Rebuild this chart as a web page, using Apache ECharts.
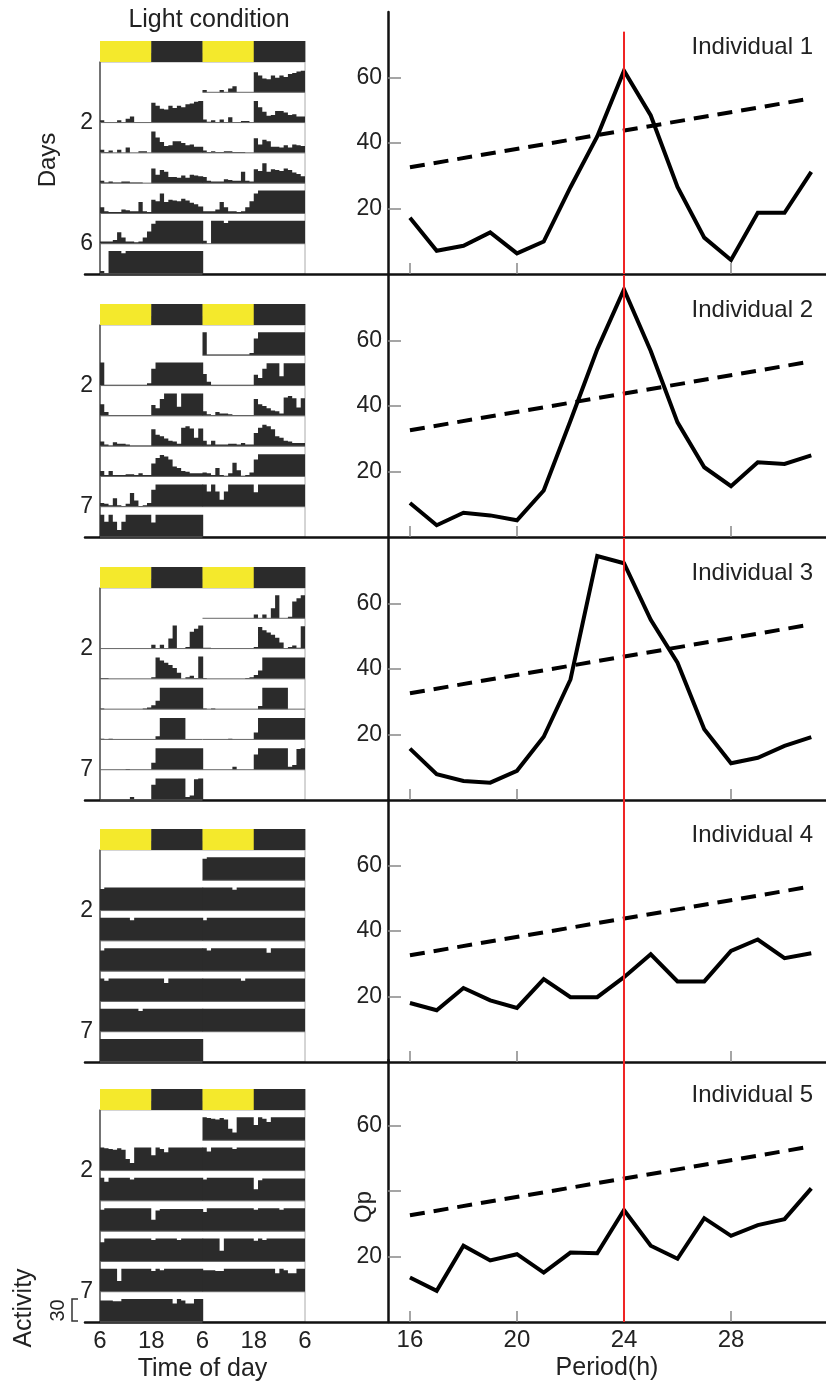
<!DOCTYPE html>
<html><head><meta charset="utf-8">
<script src="https://cdn.jsdelivr.net/npm/echarts@6/dist/echarts.min.js"></script>
<style>html,body{margin:0;padding:0;background:#fff}#c{width:826px;height:1385px}</style>
</head><body><div id="c"></div>
<script>
// ---------- periodogram data ----------
const periods = [16,17,18,19,20,21,22,23,24,25,26,27,28,29,30,31];
const qp1 = [17.2,7.1,8.6,12.7,6.3,9.9,26.5,42,62.1,48.4,26.6,11.1,4.3,18.7,18.7,31.2];
const qp2 = [10.4,3.6,7.4,6.6,5.1,14.2,35.5,57.3,75.6,56.8,35,21.3,15.5,22.8,22.3,24.9];
const qp3 = [15.7,7.9,5.8,5.3,8.9,19.3,36.8,74.5,72.3,55,41.9,21.6,11.2,12.9,16.5,19.2];
const qp4 = [18,15.8,22.6,18.8,16.5,25.3,19.8,19.8,25.9,32.9,24.6,24.6,33.9,37.4,31.7,33.2];
const qp5 = [13.6,9.5,23.3,18.8,20.7,15.1,21.2,21,34.2,23.3,19.3,31.7,26.3,29.6,31.4,40.8];
const sigPeriods = [16, 31];
const sigQp = [32.6, 53.6];
const refPeriod = 24;
const refTop = [74, 80, 80, 80, 80];
const periodTicks = [16, 20, 24, 28];
const qpTicks = [20, 40, 60];
const qpLabelValues = [[20,40,60],[20,40,60],[20,40,60],[20,40,60],[20,60]];
const individuals = ['Individual 1','Individual 2','Individual 3','Individual 4','Individual 5'];

// ---------- actogram data (hourly activity per day, from 6:00) ----------
const ind1Days = [
  [3,0,0,0,3,0,5,8,0,0,0,0,26,22,18,17,22,19,22,20,24,25,27,28],
  [4,1,3,0,4,0,7,0,0,2,2,0,28,20,14,9,10,15,15,13,10,11,8,8],
  [3,1,2,1,1,2,2,1,1,1,0,0,19,11,17,15,8,8,7,10,7,11,10,9],
  [8,3,2,2,2,5,4,3,3,15,3,2,18,16,26,15,18,17,16,19,17,14,12,9],
  [3,3,3,5,15,8,3,3,2,3,8,16,26,30,30,30,30,30,30,30,30,30,30,30],
  [4,0,30,30,30,27,30,30,30,30,30,30,30,30,30,30,30,30,30,30,30,30,30,30]
];
const ind2Days = [
  [30,1,1,1,1,1,1,1,1,1,1,3,22,30,30,30,30,30,30,30,30,30,30,30],
  [15,5,1,1,1,1,1,1,1,1,1,1,14,10,22,29,29,29,12,29,29,29,29,29],
  [6,2,1,5,3,3,2,1,1,1,1,1,22,15,13,10,7,6,3,24,26,23,11,23],
  [7,2,7,2,2,2,3,3,2,4,2,2,17,24,28,26,22,13,11,7,6,4,4,4],
  [5,4,2,11,2,1,4,18,8,1,2,5,22,29,29,29,29,29,29,29,29,29,29,29],
  [29,20,29,20,9,20,29,29,29,29,29,29,19,29,29,29,29,29,29,29,29,29,29,29]
];
const ind3Days = [
  [0,0,0,0,0,0,0,0,0,0,0,0,5,0,5,0,13,30,0,0,2,22,26,30],
  [1,1,0,0,0,0,0,0,0,0,0,0,2,28,24,21,18,14,8,0,2,4,1,29],
  [1,0,0,0,0,0,0,0,0,0,1,2,5,11,28,28,28,28,28,28,28,28,28,28],
  [1,0,1,0,0,0,0,0,0,0,0,0,0,4,28,28,28,28,28,28,0,0,0,0],
  [0,0,0,0,0,0,1,0,0,0,0,0,9,28,28,28,28,28,28,28,28,28,28,28],
  [0,0,0,0,0,0,0,4,0,0,0,0,20,28,28,28,28,28,28,28,4,6,27,28]
];
const ind4Days = [
  [28,30,30,30,30,30,30,30,30,30,30,30,30,30,30,30,30,30,30,30,30,30,30,30],
  [30,30,30,30,30,30,30,27,30,30,30,30,30,30,30,30,30,30,30,30,30,30,30,30],
  [27,30,30,30,30,30,30,30,30,30,30,30,30,30,30,30,30,30,30,30,30,30,30,30],
  [30,27,30,30,30,30,30,30,30,30,30,30,30,30,30,24,30,30,30,30,30,30,30,30],
  [30,30,30,30,30,30,30,30,30,27,30,30,30,30,30,30,30,30,30,30,30,30,30,30],
  [30,30,30,30,30,30,30,30,30,30,30,30,30,30,30,30,30,30,30,30,30,30,30,30]
];
const ind5Days = [
  [30,29,28,27,29,27,15,10,30,30,30,30,20,30,28,24,30,30,30,30,30,30,30,30],
  [30,25,30,30,30,30,30,28,30,30,30,30,30,30,30,30,30,30,30,30,30,30,30,30],
  [28,30,30,30,30,30,30,30,30,30,30,30,15,27,29,29,29,29,29,29,29,29,29,29],
  [25,30,30,30,30,30,30,30,30,30,30,30,28,30,30,30,30,30,28,30,30,30,30,30],
  [30,30,30,30,14,30,30,30,30,30,30,30,27,30,28,30,30,30,30,30,30,30,30,30],
  [28,28,28,27,27,30,30,30,30,30,30,30,30,30,30,30,30,24,30,28,24,24,30,30]
];
const dayLabelRows = [2, 6];
const dayLabels = [['2','6'],['2','7'],['2','7'],['2','7'],['2','7']];
const timeTickValues = [0, 12, 24, 36, 48];
const timeTickLabels = ['6','18','6','18','6'];
const lightStart = [0, 12, 24, 36];
const lightEnd = [12, 24, 36, 48];
const lightState = ['L','D','L','D'];
const activityScale = 30;

// ---------- layout / style ----------
const FONT = "'Liberation Sans', Arial, Helvetica, sans-serif";
const TXT = '#222';
const panelBottoms = [274, 537, 800, 1062, 1322];
const PANEL_H = 262;
const ROWS = 7;
const ROW_UNITS = 39.5;   // activity units per actogram row (pitch)
const BAR_COLOR = '#2b2b2b';
const SEAM = 0.7;         // px overlap to hide anti-aliasing seam between halves

const qpAll = [qp1, qp2, qp3, qp4, qp5];
const daysAll = [ind1Days, ind2Days, ind3Days, ind4Days, ind5Days];

// double plot: row r shows day r-1 (left half) and day r (right half)
function buildSegments(days) {
  const segs = [];
  for (let r = 0; r < ROWS; r++) {
    [[r - 1, 0], [r, 24]].forEach(([d, off]) => {
      if (d >= 0 && d < days.length) segs.push([r, off, d]);
    });
  }
  return segs;
}

function makeSegRenderer(days) {
  return function (params, api) {
    const r = api.value(0), off = api.value(1), d = api.value(2);
    const base = (r + 1) * ROW_UNITS;
    const vals = days[d];
    const n = vals.length;
    const pts = [api.coord([off, base])];
    vals.forEach((v, h) => {
      const top = base - Math.min(v, activityScale);
      const a = api.coord([off + h, top]);
      const b = api.coord([off + h + 1, top]);
      if (h === n - 1 && off === 0) b[0] += SEAM;
      pts.push(a, b);
    });
    const endP = api.coord([off + n, base]);
    if (off === 0) endP[0] += SEAM;
    pts.push(endP);
    const a = api.coord([off, base]), b = api.coord([off + n, base]);
    return { type: 'group', children: [
      { type: 'polygon', shape: { points: pts }, style: { fill: BAR_COLOR } },
      { type: 'line', shape: { x1: a[0], y1: a[1], x2: b[0], y2: b[1] }, style: { stroke: '#666', lineWidth: 1 } }
    ] };
  };
}
function renderLight(params, api) {
  const p0 = api.coord([api.value(0), 0]);
  const p1 = api.coord([api.value(1), 1]);
  return { type: 'rect', shape: { x: p0[0], y: p1[1], width: p1[0] - p0[0] + 0.4, height: p0[1] - p1[1] },
           style: { fill: api.value(2) === 1 ? '#f4e92c' : BAR_COLOR } };
}

const grids = [], xAxes = [], yAxes = [], series = [], titles = [];
for (let i = 0; i < 5; i++) {
  const B = panelBottoms[i], T = B - PANEL_H, last = i === 4;
  const g0 = grids.length, g1 = g0 + 1, g2 = g0 + 2, g3 = g0 + 3;

  // periodogram
  grids.push({ left: 388, width: 438, top: T, height: PANEL_H });
  xAxes.push({ gridIndex: g0, type: 'value', min: 15.18, max: 31.55,
    axisLine: { show: false },
    axisTick: { show: true, inside: true, length: 11, customValues: periodTicks, lineStyle: { color: '#888', width: 1.5 } },
    axisLabel: { show: last, customValues: periodTicks, fontSize: 24, color: TXT, margin: 6, fontFamily: FONT },
    splitLine: { show: false },
    name: last ? 'Period(h)' : '', nameLocation: 'middle', nameGap: 34,
    nameTextStyle: { fontSize: 25, color: TXT, fontFamily: FONT } });
  yAxes.push({ gridIndex: g0, type: 'value', min: 0, max: 80,
    axisLine: { show: true, lineStyle: { color: '#111', width: 2.5 } },
    axisTick: { show: true, inside: true, length: 13, customValues: qpTicks, lineStyle: { color: '#888', width: 1.5 } },
    axisLabel: { customValues: qpLabelValues[i], fontSize: 23, color: TXT, margin: 6, fontFamily: FONT },
    splitLine: { show: false } });

  // actogram rows
  grids.push({ left: 100, width: 205, top: B - 212, height: 212, show: true, borderColor: '#aaa', borderWidth: 1 });
  xAxes.push({ gridIndex: g1, type: 'value', min: 0, max: 48,
    axisLine: { show: false },
    axisTick: { show: true, inside: true, length: 9, customValues: [12, 24, 36], lineStyle: { color: '#888', width: 1.2 } },
    axisLabel: { show: last, customValues: timeTickValues, formatter: v => timeTickLabels[timeTickValues.indexOf(Math.round(v))],
                 fontSize: 24, color: TXT, margin: 7, fontFamily: FONT },
    splitLine: { show: false },
    name: last ? 'Time of day' : '', nameLocation: 'middle', nameGap: 35,
    nameTextStyle: { fontSize: 25, color: TXT, fontFamily: FONT } });
  const labs = dayLabels[i];
  yAxes.push({ gridIndex: g1, type: 'value', min: 0, max: ROWS * ROW_UNITS, inverse: true,
    axisLine: { show: true, lineStyle: { color: '#555', width: 1.5 } },
    axisTick: { show: false },
    axisLabel: { customValues: dayLabelRows.map(r => r * ROW_UNITS),
                 formatter: v => labs[dayLabelRows.indexOf(Math.round(v / ROW_UNITS))] || '',
                 fontSize: 23, color: TXT, margin: 7, fontFamily: FONT, padding: [6, 0, 0, 0] },
    splitLine: { show: false } });

  // light bar
  grids.push({ left: 100, width: 205, top: B - 233, height: 21 });
  xAxes.push({ gridIndex: g2, type: 'value', min: 0, max: 48, show: false });
  yAxes.push({ gridIndex: g2, type: 'value', min: 0, max: 1, show: false });

  // frame separator
  grids.push({ left: 85, right: 0, top: T, height: PANEL_H });
  xAxes.push({ gridIndex: g3, type: 'value', min: 0, max: 1,
    axisLine: { show: true, onZero: false, lineStyle: { color: '#111', width: 2.5 } },
    axisTick: { show: false }, axisLabel: { show: false }, splitLine: { show: false } });
  yAxes.push({ gridIndex: g3, type: 'value', min: 0, max: 1, show: false });

  series.push({ type: 'custom', xAxisIndex: g1, yAxisIndex: g1, data: buildSegments(daysAll[i]),
    renderItem: makeSegRenderer(daysAll[i]), silent: true, z: 2 });
  series.push({ type: 'custom', xAxisIndex: g2, yAxisIndex: g2,
    data: lightStart.map((s, k) => [s, lightEnd[k], lightState[k] === 'L' ? 1 : 0]), renderItem: renderLight, silent: true, z: 2 });

  series.push({ type: 'line', xAxisIndex: g0, yAxisIndex: g0, data: periods.map((p, k) => [p, qpAll[i][k]]),
    symbol: 'none', lineStyle: { color: '#000', width: 4, join: 'miter' }, silent: true, z: 3 });
  series.push({ type: 'line', xAxisIndex: g0, yAxisIndex: g0, data: sigPeriods.map((p, k) => [p, sigQp[k]]),
    symbol: 'none', lineStyle: { color: '#000', width: 4, type: [15, 9] }, silent: true, z: 3 });
  series.push({ type: 'line', xAxisIndex: g0, yAxisIndex: g0, data: [[refPeriod, 0], [refPeriod, refTop[i]]],
    symbol: 'none', lineStyle: { color: '#f02424', width: 2 }, silent: true, z: 5 });

  titles.push({ text: individuals[i], right: 13, top: T + 23, padding: 0,
    textStyle: { fontSize: 24, fontWeight: 'normal', color: TXT, fontFamily: FONT } });
}

const chart = echarts.init(document.getElementById('c'), null, { renderer: 'canvas' });
const txt = (id, text, x, y, size, rot) => ({ id, type: 'text', x, y, rotation: rot || 0, silent: true,
  style: { text, fontSize: size, fontFamily: FONT, fill: TXT, align: 'center', verticalAlign: 'middle' } });
chart.setOption({
  animation: false,
  textStyle: { fontFamily: FONT },
  title: titles,
  grid: grids, xAxis: xAxes, yAxis: yAxes, series,
  graphic: [
    txt('lc', 'Light condition', 209, 20, 25),
    txt('days', 'Days', 48, 160, 24, Math.PI / 2),
    txt('act', 'Activity', 24, 1308, 25, Math.PI / 2),
    txt('qp', 'Qp', 364, 1207, 24, Math.PI / 2)
  ]
});
// activity scale bar from the last actogram's scale
const gLast = 4 * 4 + 1;
const yb = chart.convertToPixel({ xAxisIndex: gLast, yAxisIndex: gLast }, [0, ROWS * ROW_UNITS])[1];
const yt = chart.convertToPixel({ xAxisIndex: gLast, yAxisIndex: gLast }, [0, ROWS * ROW_UNITS - activityScale])[1];
chart.setOption({ graphic: [
  { id: 'bracket', type: 'polyline', silent: true, shape: { points: [[78, yt], [72, yt], [72, yb - 1], [78, yb - 1]] },
    style: { stroke: '#333', lineWidth: 1.5, fill: null } },
  txt('scale', String(activityScale), 58, (yt + yb) / 2, 20, Math.PI / 2)
] });
</script></body></html>
